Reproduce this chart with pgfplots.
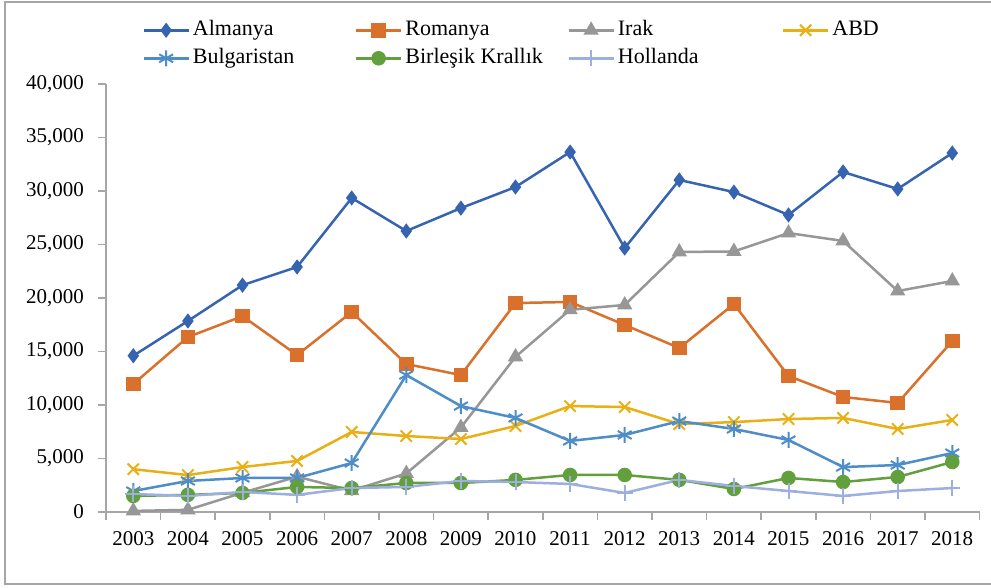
\documentclass[border=0pt]{standalone}
\usepackage{pgfplots}
\pgfplotsset{compat=1.18}
\usepackage{fontspec}
\setmainfont{Liberation Serif}
\definecolor{cAlm}{HTML}{3764B0}
\definecolor{cRom}{HTML}{D9702B}
\definecolor{cIrk}{HTML}{979797}
\definecolor{cABD}{HTML}{E8B015}
\definecolor{cBul}{HTML}{4E8DC8}
\definecolor{cBK}{HTML}{62A03D}
\definecolor{cHol}{HTML}{9DAEE0}
\definecolor{cFrame}{HTML}{A6A6A6}
\begin{document}
\begin{tikzpicture}
\path[use as bounding box, fill=white] (-53pt,-38pt) rectangle (442.5pt,256pt);
\draw[cFrame, line width=1pt] (-50.5pt,-36pt) rectangle (446pt,255pt);
\begin{axis}[
  at={(0,0)}, anchor=south west,
  scale only axis, width=436.8pt, height=214pt,
  xmin=2002.5, xmax=2018.5, ymin=0, ymax=40000,
  axis x line=bottom, axis y line=left,
  axis line style={-, draw=cFrame, line width=0.8pt},
  xtick={2003,...,2018},
  major x tick style={draw=none},
  minor xtick={2002.5,2003.5,...,2018.5},
  minor x tick style={draw=cFrame, line width=0.8pt},
  minor tick length=4pt,
  ytick={0,5000,...,40000},
  y tick style={draw=cFrame, line width=0.8pt},
  major tick length=4pt,
  tick align=outside,
  /pgf/number format/assume math mode=true,
  xticklabel style={font=\fontsize{10.5}{12}\selectfont, yshift=-2pt, /pgf/number format/.cd, 1000 sep={}},
  yticklabel style={font=\fontsize{10.5}{12}\selectfont, xshift=-3.5pt, /pgf/number format/.cd, fixed, 1000 sep={,}},
  scaled y ticks=false,
  clip=false,
  every axis plot/.append style={line width=1.25pt},
  legend columns=4,
  legend style={draw=none, fill=none, at={(axis description cs:0.0412,1.151)}, anchor=north west,
    font=\fontsize{11}{13}\selectfont, inner sep=0pt, row sep=3.5pt,
    nodes={inner sep=0pt, text height=8pt, text depth=2.5pt},
    /tikz/every even column/.append style={column sep=0pt}},
  legend cell align=left,
  legend image code/.code={\draw[mark repeat=2,mark phase=2,#1] plot coordinates {(0pt,0pt)(11.25pt,0pt)(22.5pt,0pt)};},
]
\addplot[color=cAlm, mark=diamond*, mark size=2.8pt] coordinates {
(2003,14600)(2004,17850)(2005,21200)(2006,22900)(2007,29350)(2008,26260)(2009,28400)(2010,30370)
(2011,33640)(2012,24670)(2013,31030)(2014,29900)(2015,27760)(2016,31780)(2017,30190)(2018,33550)};
\addlegendentry{\makebox[82.5pt][l]{\hspace{1.5pt}Almanya}}
\addplot[color=cRom, mark=square*, mark size=3pt] coordinates {
(2003,11960)(2004,16350)(2005,18300)(2006,14670)(2007,18690)(2008,13830)(2009,12800)(2010,19530)
(2011,19630)(2012,17480)(2013,15330)(2014,19440)(2015,12710)(2016,10750)(2017,10190)(2018,15980)};
\addlegendentry{\makebox[82.5pt][l]{\hspace{1.5pt}Romanya}}
\addplot[color=cIrk, mark=triangle*, mark size=3.2pt] coordinates {
(2003,100)(2004,200)(2005,1800)(2006,3300)(2007,2000)(2008,3600)(2009,7900)(2010,14500)
(2011,18900)(2012,19350)(2013,24300)(2014,24350)(2015,26070)(2016,25330)(2017,20650)(2018,21590)};
\addlegendentry{\makebox[83.5pt][l]{\hspace{1.5pt}Irak}}
\addplot[color=cABD, mark=x, mark size=4pt, mark options={line width=1pt}] coordinates {
(2003,4000)(2004,3450)(2005,4200)(2006,4770)(2007,7480)(2008,7100)(2009,6820)(2010,8040)
(2011,9900)(2012,9810)(2013,8220)(2014,8400)(2015,8690)(2016,8790)(2017,7760)(2018,8600)};
\addlegendentry{\hspace{1.5pt}ABD}
\addplot[color=cBul, mark=asterisk, mark size=4pt, mark options={line width=1pt}] coordinates {
(2003,1960)(2004,2900)(2005,3180)(2006,3180)(2007,4580)(2008,12800)(2009,9900)(2010,8790)
(2011,6640)(2012,7200)(2013,8500)(2014,7760)(2015,6730)(2016,4200)(2017,4390)(2018,5510)};
\addlegendentry{\makebox[82.5pt][l]{\hspace{1.5pt}Bulgaristan}}
\addplot[color=cBK, mark=*, mark size=3pt] coordinates {
(2003,1500)(2004,1600)(2005,1780)(2006,2340)(2007,2240)(2008,2710)(2009,2710)(2010,3000)
(2011,3460)(2012,3460)(2013,3000)(2014,2150)(2015,3180)(2016,2800)(2017,3270)(2018,4670)};
\addlegendentry{\makebox[82.5pt][l]{\hspace{1.5pt}Birleşik Krallık}}
\addplot[color=cHol, mark=+, mark size=4pt, mark options={line width=1pt}] coordinates {
(2003,1680)(2004,1500)(2005,1870)(2006,1600)(2007,2240)(2008,2340)(2009,2900)(2010,2800)
(2011,2620)(2012,1780)(2013,3000)(2014,2430)(2015,1960)(2016,1500)(2017,1960)(2018,2240)};
\addlegendentry{\makebox[83.5pt][l]{\hspace{1.5pt}Hollanda}}
\end{axis}
\end{tikzpicture}
\end{document}
